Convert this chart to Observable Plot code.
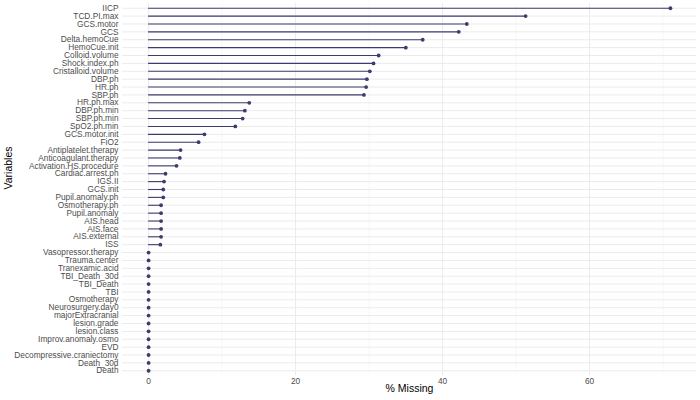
<!DOCTYPE html>
<html>
<head>
<meta charset="utf-8">
<script src="https://cdn.jsdelivr.net/npm/d3@7"></script>
<script src="https://cdn.jsdelivr.net/npm/@observablehq/plot@0.6"></script>
<style>
  html, body { margin: 0; padding: 0; background: #ffffff; }
  #chart { width: 700px; height: 400px; }
</style>
</head>
<body>
<div id="chart"></div>
<script>
const variables = [
  "IICP", "TCD.PI.max", "GCS.motor", "GCS", "Delta.hemoCue", "HemoCue.init",
  "Colloid.volume", "Shock.index.ph", "Cristalloid.volume", "DBP.ph", "HR.ph", "SBP.ph",
  "HR.ph.max", "DBP.ph.min", "SBP.ph.min", "SpO2.ph.min", "GCS.motor.init", "FiO2",
  "Antiplatelet.therapy", "Anticoagulant.therapy", "Activation.HS.procedure", "Cardiac.arrest.ph",
  "IGS.II", "GCS.init", "Pupil.anomaly.ph", "Osmotherapy.ph", "Pupil.anomaly", "AIS.head",
  "AIS.face", "AIS.external", "ISS", "Vasopressor.therapy", "Trauma.center", "Tranexamic.acid",
  "TBI_Death_30d", "TBI_Death", "TBI", "Osmotherapy", "Neurosurgery.day0", "majorExtracranial",
  "lesion.grade", "lesion.class", "Improv.anomaly.osmo", "EVD", "Decompressive.craniectomy",
  "Death_30d", "Death"
];
const pctMissing = [
  71.0, 51.3, 43.3, 42.2, 37.3, 35.0,
  31.3, 30.6, 30.1, 29.7, 29.6, 29.3,
  13.7, 13.1, 12.8, 11.8, 7.6, 6.8,
  4.35, 4.25, 3.8, 2.3,
  2.1, 2.0, 2.0, 1.7, 1.7, 1.7,
  1.7, 1.7, 1.6, 0, 0, 0,
  0, 0, 0, 0, 0, 0,
  0, 0, 0, 0, 0,
  0, 0
];
const xTicks = [0, 20, 40, 60];
const xMinorTicks = [10, 30, 50, 70];

const data = variables.map((v, i) => ({variable: v, missing: pctMissing[i]}));
const maxV = d3.max(pctMissing);
const pad = maxV * 0.05;
const col = "#3c3c6e";

const chart = Plot.plot({
  width: 700,
  height: 400,
  marginLeft: 122,
  marginRight: 4,
  marginTop: 3,
  marginBottom: 25,
  style: {fontFamily: "'Liberation Sans', Arial, sans-serif", fontSize: "8.3px", background: "#ffffff"},
  x: {domain: [-pad, maxV + pad]},
  y: {type: "point", domain: variables, padding: 0.6},
  marks: [
    Plot.gridX(xMinorTicks, {stroke: "#f4f4f4", strokeOpacity: 1, strokeWidth: 0.6}),
    Plot.gridX(xTicks, {stroke: "#ebebeb", strokeOpacity: 1, strokeWidth: 1}),
    Plot.gridY(variables, {stroke: "#ebebeb", strokeOpacity: 1, strokeWidth: 1}),
    Plot.axisX(xTicks, {tickSize: 0, tickPadding: 3, label: null, fill: "#4d4d4d", fontSize: 8.3}),
    Plot.axisY(variables, {tickSize: 0, tickPadding: 4, label: null, fill: "#4d4d4d", fontSize: 8.3}),
    Plot.ruleY(data, {y: "variable", x1: 0, x2: "missing", stroke: col, strokeWidth: 1.1}),
    Plot.dot(data, {x: "missing", y: "variable", r: 1.9, fill: col, stroke: null}),
    Plot.text(["% Missing"], {text: d => d, frameAnchor: "bottom", dy: 16.5, fontSize: 10.5, fill: "#000000"}),
    Plot.text(["Variables"], {text: d => d, frameAnchor: "left", dx: -114, rotate: -90, fontSize: 10.5, fill: "#000000"})
  ]
});
document.getElementById("chart").appendChild(chart);
</script>
</body>
</html>
